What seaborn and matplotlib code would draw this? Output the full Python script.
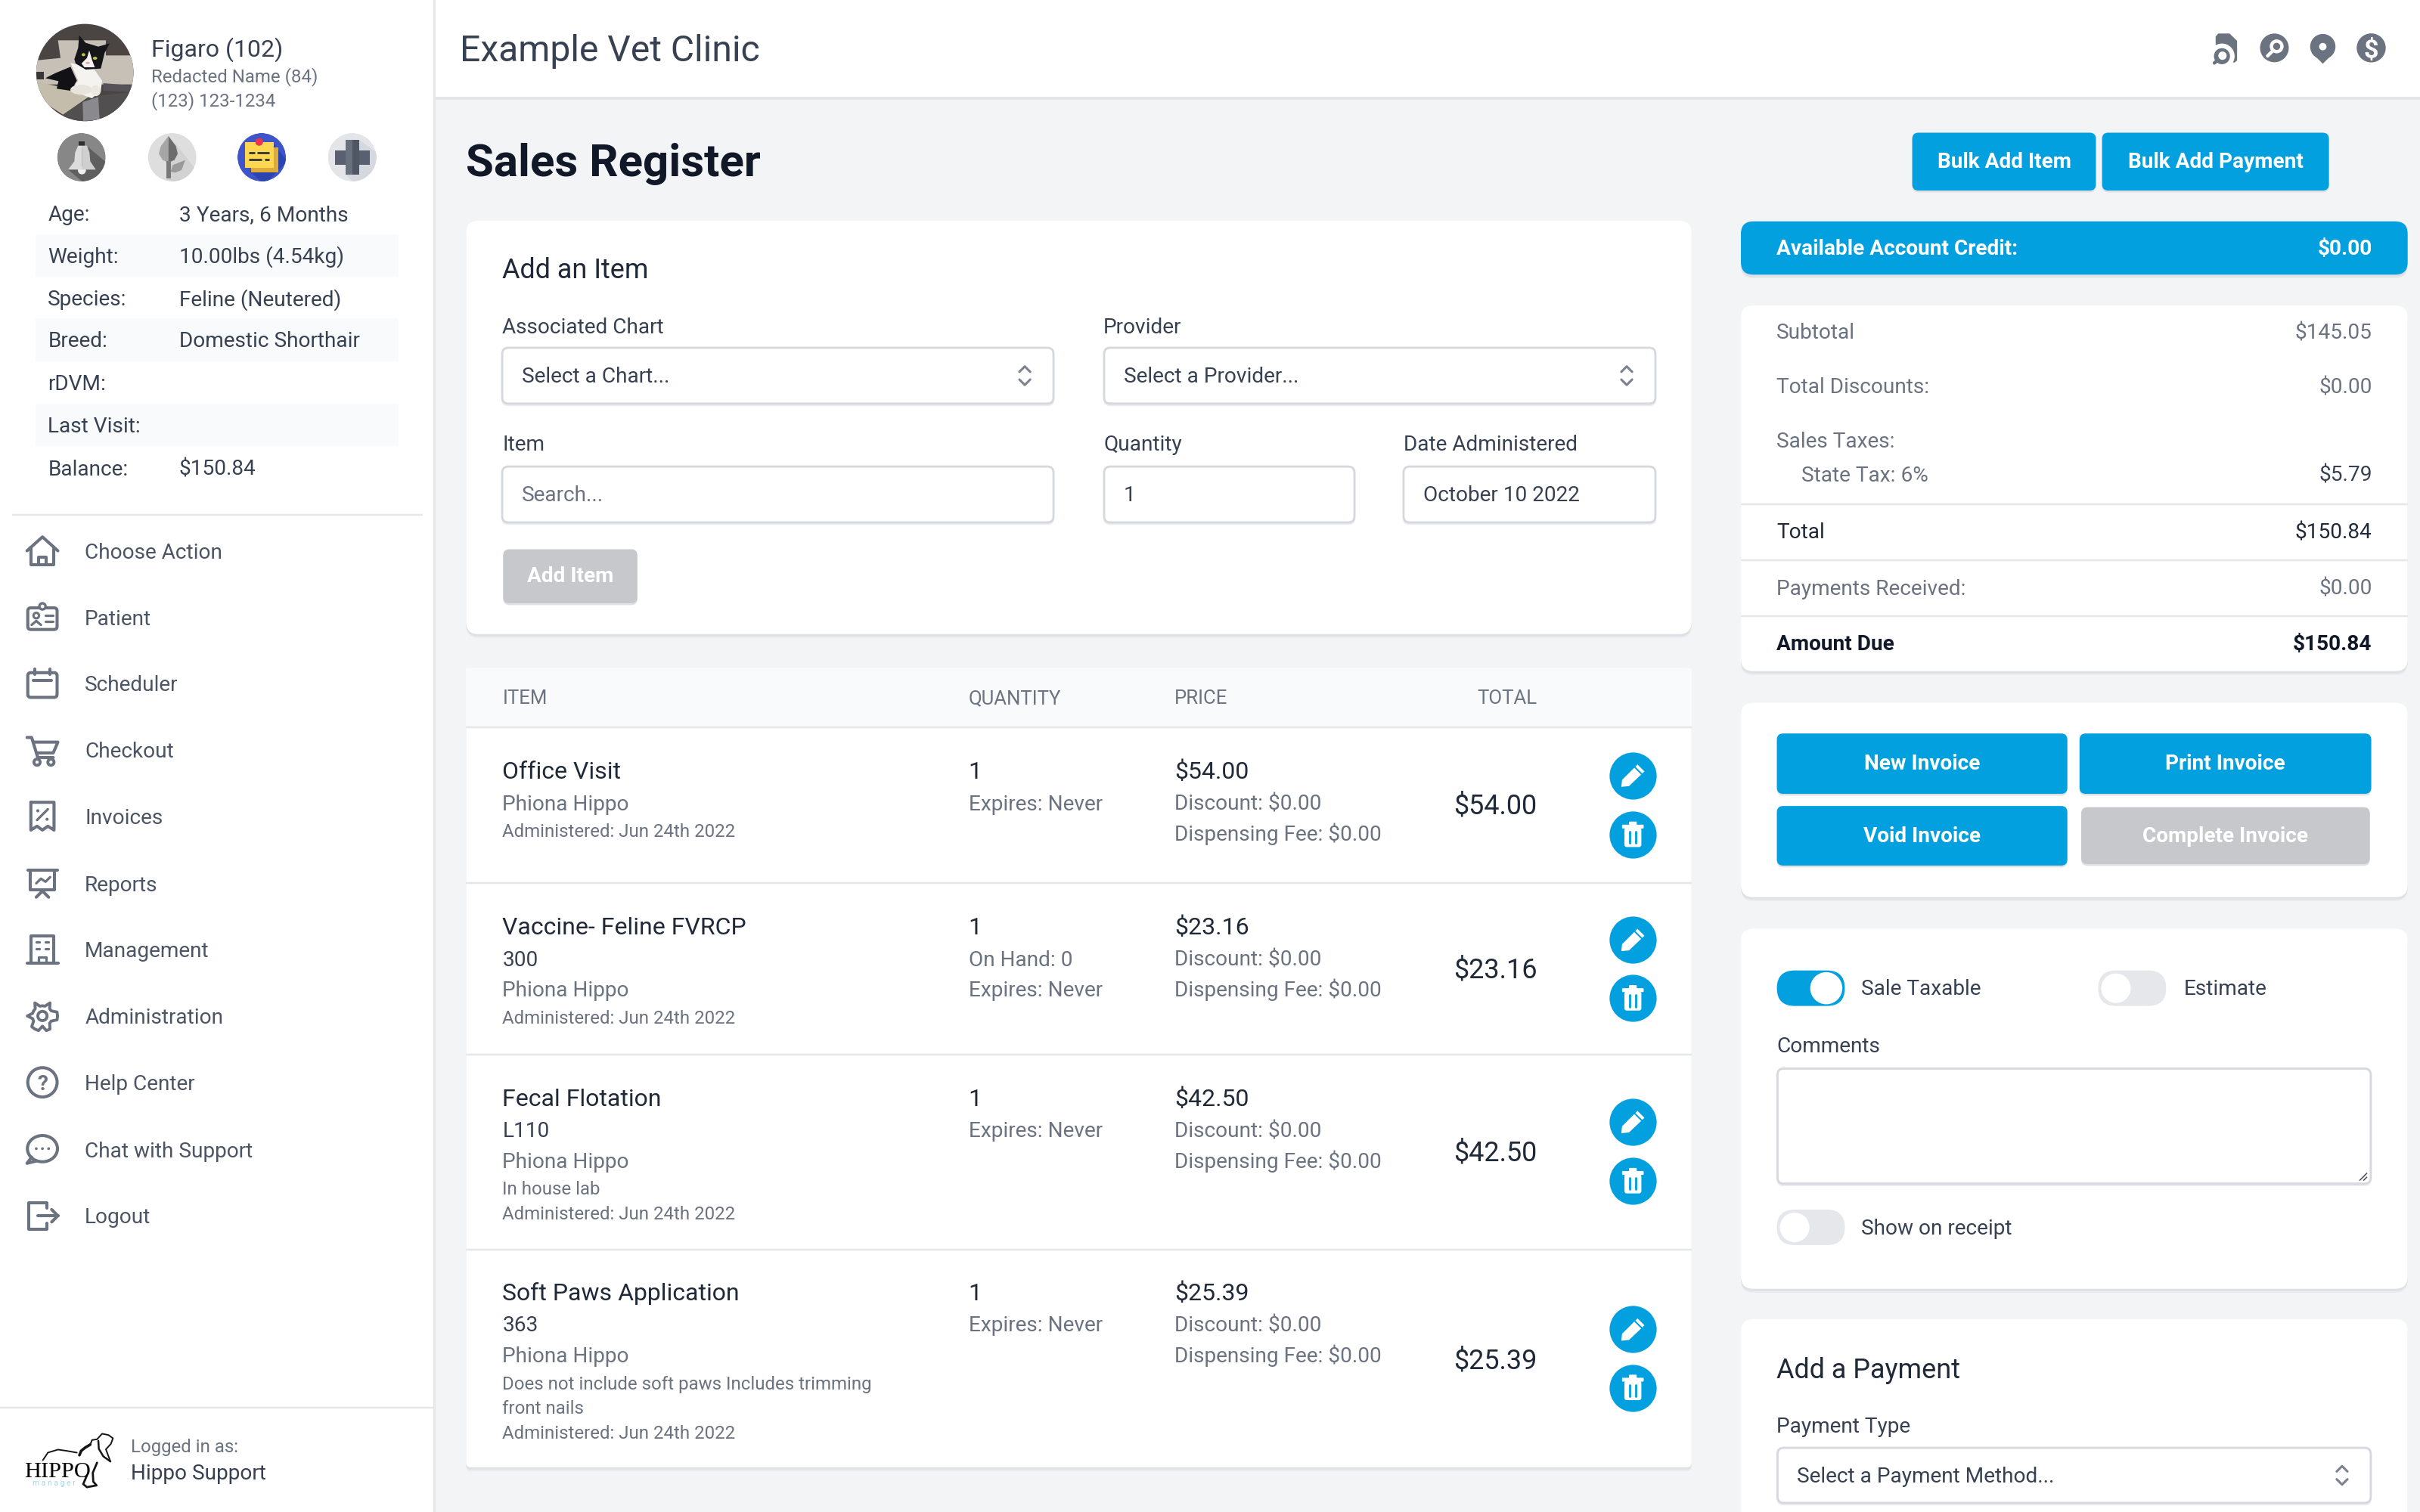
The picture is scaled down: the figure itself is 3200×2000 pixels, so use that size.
"""Sales register screen of the vet clinic app, redrawn in matplotlib/seaborn."""
import matplotlib
matplotlib.use("Agg")
import matplotlib.pyplot as plt
import numpy as np
import pandas as pd
import seaborn as sns
from matplotlib.patches import Circle, Ellipse, FancyBboxPatch, Polygon, Rectangle

# ---------------- TEXT AND VALUES ----------------
clinic_name = "Example Vet Clinic"
page_title = "Sales Register"
patient_name = "Figaro (102)"
owner_name = "Redacted Name (84)"
owner_phone = "(123) 123-1234"

pet_labels = ["Age:", "Weight:", "Species:", "Breed:", "rDVM:", "Last Visit:", "Balance:"]
pet_values = ["3 Years, 6 Months", "10.00lbs (4.54kg)", "Feline (Neutered)", "Domestic Shorthair", "", "", "$150.84"]
menu_items = ["Choose Action", "Patient", "Scheduler", "Checkout", "Invoices", "Reports",
              "Management", "Administration", "Help Center", "Chat with Support", "Logout"]

table_headers = ["ITEM", "QUANTITY", "PRICE"]
item_lines = [
    ["Office Visit", "Phiona Hippo", "Administered: Jun 24th 2022"],
    ["Vaccine- Feline FVRCP", "300", "Phiona Hippo", "Administered: Jun 24th 2022"],
    ["Fecal Flotation", "L110", "Phiona Hippo", "In house lab", "Administered: Jun 24th 2022"],
    ["Soft Paws Application", "363", "Phiona Hippo", "Does not include soft paws Includes trimming",
     "front nails", "Administered: Jun 24th 2022"],
]
qty_lines = [["1", "Expires: Never"], ["1", "On Hand: 0", "Expires: Never"],
             ["1", "Expires: Never"], ["1", "Expires: Never"]]
item_prices = ["$54.00", "$23.16", "$42.50", "$25.39"]

summary_labels = ["Subtotal", "Total Discounts:", "Payments Received:"]
summary_values = ["$145.05", "$0.00", "$0.00"]
tax_rate_label = "State Tax: 6%"
tax_value = "$5.79"
total_value = "$150.84"
amount_due = "$150.84"
account_credit = "$0.00"

# ---------------- LAYOUT (pixels of a 1568 x 980 screen) ----------------
pet_y = [138, 165.5, 193, 220, 248, 275, 303]
menu_y = [357, 400, 443, 486, 529, 572.5, 615.5, 658.5, 701.5, 745, 788]
header_x = [325.5, 627.5, 761]
item_y = [[499, 520, 538], [600, 621, 641, 659], [711, 732, 752, 770, 786],
          [837, 858, 878, 896.5, 912, 928]]
row_dividers = [572.5, 683.5, 810]
total_y = [521, 627.5, 746, 880.5]
edit_y = [502.5, 609, 727, 861.5]
trash_y = [541, 647, 765.5, 899.5]
summary_y = [214.5, 250, 380.5]
summary_dividers = [327, 363, 399.5]

BLUE = "#02a0de"
DISABLED = "#c6c8cb"
BG = "#f3f4f6"
DARK = "#111827"
TEXT = "#374151"
MUTED = "#6b7280"
BORDER = "#d5d8dd"
ICON = "#6b7280"

PX_TO_PT = 3200 / 1568 * 72 / 200
FONT_FIT = 0.98  # the installed Roboto runs a little wider than the browser's

sns.set_theme(style="white", rc={"axes.facecolor": BG, "figure.facecolor": BG})
plt.rcParams["font.family"] = ["Roboto", "DejaVu Sans"]

fig = plt.figure(figsize=(16, 10), dpi=200)
ax = fig.add_axes([0, 0, 1, 1])
ax.set_xlim(0, 1568)
ax.set_ylim(980, 0)
ax.axis("off")


def txt(x, y, s, size=14, color=TEXT, weight="normal", ha="left", **kw):
    # y is the visual middle of the capitals, so rows with descenders stay aligned
    return ax.text(x, y + size * 0.36, s, fontsize=size * PX_TO_PT * FONT_FIT, color=color,
                   fontweight=weight, ha=ha, va="baseline", zorder=6, **kw)


def box(x0, y0, x1, y1, color="white", r=4, edge="none", lw=0, z=2):
    p = FancyBboxPatch((x0, y0), x1 - x0, y1 - y0, boxstyle=f"round,pad=0,rounding_size={r}",
                       fc=color, ec=edge, lw=lw * PX_TO_PT, zorder=z)
    ax.add_patch(p)
    return p


def card(x0, y0, x1, y1, r=8):
    for off, col in [(2.5, "#e9ebee"), (1.5, "#dfe1e5")]:
        box(x0, y0 + off, x1, y1 + off, col, r, z=1)
    box(x0, y0, x1, y1, "white", r, z=2)


def hline(y, x0, x1, color="#e5e7eb", lw=1.2, z=3):
    ax.plot([x0, x1], [y, y], color=color, lw=lw * PX_TO_PT, zorder=z, solid_capstyle="butt")


def stroke(cx, cy, pts, color=ICON, lw=2, z=5):
    pts = np.array(pts, dtype=float)
    ax.plot(cx + pts[:, 0], cy + pts[:, 1], color=color, lw=lw * PX_TO_PT, zorder=z,
            solid_capstyle="round", solid_joinstyle="round")


def button(x0, y0, x1, y1, label, color=BLUE):
    box(x0, y0 + 1.2, x1, y1 + 1.2, "#dfe1e5", 4, z=3)
    box(x0, y0, x1, y1, color, 4, z=4)
    txt((x0 + x1) / 2, (y0 + y1) / 2 - 1, label, 14, "white", "bold", ha="center")


def chevrons(cx, cy, color="#7b8290"):
    stroke(cx, cy, [(-3.5, -2.5), (0, -6), (3.5, -2.5)], color, 1.5)
    stroke(cx, cy, [(-3.5, 2.5), (0, 6), (3.5, 2.5)], color, 1.5)


def field(x0, y0, x1, y1, text="", color=TEXT, chevron=False):
    box(x0, y0 + 1.2, x1, y1 + 1.2, "#eceef1", 4, z=3)
    box(x0 + 0.4, y0 + 0.4, x1 - 0.4, y1 - 0.4, "white", 4, BORDER, 1.4, z=4)
    if text:
        txt(x0 + 13, (y0 + y1) / 2 - 0.5, text, 14, color)
    if chevron:
        chevrons(x1 - 19, (y0 + y1) / 2)


def toggle(x0, y0, on):
    w, h = 44, 23
    box(x0, y0, x0 + w, y0 + h, BLUE if on else "#e5e7eb", 11.5, z=4)
    kx = x0 + 32 if on else x0 + 11.5
    ax.add_patch(Circle((kx, y0 + h / 2), 10, fc="white", ec="#e5e7eb" if not on else "white", lw=0.6, zorder=5))


def clipped(shapes, clip):
    for shape in shapes:
        shape.set_edgecolor("none")
        shape.set_zorder(4)
        ax.add_patch(shape)
        shape.set_clip_path(clip)


# ---------------- ICONS ----------------
def icon_home(c, y):
    stroke(c, y, [(-10, 0), (0, -9), (10, 0)])
    stroke(c, y, [(-7.5, -2), (-7.5, 9), (7.5, 9), (7.5, -2)])
    stroke(c, y, [(-2.5, 9), (-2.5, 4), (2.5, 4), (2.5, 9)])


def icon_patient(c, y):
    ax.add_patch(FancyBboxPatch((c - 9.5, y - 6), 19, 14, boxstyle="round,pad=0,rounding_size=2",
                                fc="none", ec=ICON, lw=2 * PX_TO_PT, zorder=5))
    ax.add_patch(Circle((c, y - 7), 2, fc="white", ec=ICON, lw=1.2, zorder=6))
    ax.add_patch(Circle((c - 4, y - 1), 1.8, fc="none", ec=ICON, lw=1.1, zorder=6))
    stroke(c, y, [(-7, 5), (-4, 2.5), (-1, 5)], lw=1.6)
    stroke(c, y, [(2, -1), (7, -1)], lw=1.6)
    stroke(c, y, [(2, 3), (7, 3)], lw=1.6)


def icon_calendar(c, y):
    ax.add_patch(FancyBboxPatch((c - 9.5, y - 7), 19, 16, boxstyle="round,pad=0,rounding_size=2",
                                fc="none", ec=ICON, lw=2 * PX_TO_PT, zorder=5))
    stroke(c, y, [(-6, -2), (6, -2)])
    stroke(c, y, [(-5, -9.5), (-5, -6)])
    stroke(c, y, [(5, -9.5), (5, -6)])


def icon_cart(c, y):
    stroke(c, y, [(-10, -8), (-7, -8), (-3, 5), (7, 5)])
    stroke(c, y, [(-6, -5), (10, -5), (7, 2), (-4, 2)])
    for dx in (-3.5, 5.5):
        ax.add_patch(Circle((c + dx, y + 8), 2, fc="none", ec=ICON, lw=1.4, zorder=5))


def icon_invoice(c, y):
    stroke(c, y, [(-7.5, -9), (7.5, -9), (7.5, 9), (3.5, 6.5), (0, 9), (-3.5, 6.5), (-7.5, 9), (-7.5, -9)])
    stroke(c, y, [(-3.5, 2.5), (3.5, -4.5)], lw=1.6)
    ax.add_patch(Circle((c - 3, y - 3.5), 1, fc=ICON, ec="none", zorder=5))
    ax.add_patch(Circle((c + 3, y + 2), 1, fc=ICON, ec="none", zorder=5))


def icon_reports(c, y):
    stroke(c, y, [(-9.5, -8.5), (9.5, -8.5)])
    stroke(c, y, [(-8, -8.5), (-8, 4), (8, 4), (8, -8.5)])
    stroke(c, y, [(-4, 0), (-1, -3), (2, -1), (5, -4)], lw=1.6)
    stroke(c, y, [(-4, 9), (0, 5), (4, 9)])


def icon_building(c, y):
    stroke(c, y, [(-7.5, 9), (-7.5, -9), (7.5, -9), (7.5, 9)])
    stroke(c, y, [(-10, 9), (10, 9)])
    stroke(c, y, [(-2.5, 9), (-2.5, 5), (2.5, 5), (2.5, 9)], lw=1.6)
    for dy in (-5, -0.5):
        stroke(c, y, [(-4, dy), (-2, dy)], lw=1.6)
        stroke(c, y, [(2, dy), (4, dy)], lw=1.6)


def icon_gear(c, y):
    ang = np.deg2rad(np.arange(0, 361, 15))
    rad = 8.2 + 1.6 * np.sign(np.cos(6 * ang))
    stroke(c, y, list(zip(rad * np.cos(ang), rad * np.sin(ang))), lw=1.9)
    ax.add_patch(Circle((c, y), 3, fc="none", ec=ICON, lw=1.4, zorder=5))


def icon_help(c, y):
    ax.add_patch(Circle((c, y), 9.5, fc="none", ec=ICON, lw=2 * PX_TO_PT, zorder=5))
    txt(c, y, "?", 14, ICON, "bold", ha="center")


def icon_chat(c, y):
    ax.add_patch(Ellipse((c, y - 0.5), 19.5, 17, fc="none", ec=ICON, lw=2 * PX_TO_PT, zorder=5))
    stroke(c, y, [(-7, 5), (-10, 9), (-4, 7.5)])
    for dx in (-4, 0, 4):
        ax.add_patch(Circle((c + dx, y - 0.5), 0.9, fc=ICON, ec="none", zorder=6))


def icon_logout(c, y):
    stroke(c, y, [(3, -5), (3, -8.5), (-9, -8.5), (-9, 8.5), (3, 8.5), (3, 5)])
    stroke(c, y, [(-3, 0), (10, 0)])
    stroke(c, y, [(6, -4), (10, 0), (6, 4)])


menu_icons = [icon_home, icon_patient, icon_calendar, icon_cart, icon_invoice, icon_reports,
              icon_building, icon_gear, icon_help, icon_chat, icon_logout]


def icon_pencil(c, y):
    ax.add_patch(Polygon([(c - 7.5, y + 7.5), (c - 7, y + 3), (c + 3, y - 7), (c + 7.5, y - 2.5),
                          (c - 2.5, y + 7)], fc="white", ec="none", zorder=6))
    stroke(c, y, [(1, -5.5), (6, -0.5)], BLUE, 1, z=7)


def icon_trash(c, y):
    box(c - 5.5, y - 4.5, c + 5.5, y + 8, "white", 1.5, z=6)
    box(c - 7, y - 6.5, c + 7, y - 4, "white", 0.5, z=6)
    box(c - 2.5, y - 8.5, c + 2.5, y - 5, "white", 0.5, z=6)
    for dx in (-2, 2):
        stroke(c, y, [(dx, -2), (dx, 5.5)], BLUE, 1.4, z=7)


# ---------------- PAGE SHELL ----------------
ax.add_patch(Rectangle((282, 62.5), 1286, 2, fc="#e3e5e8", ec="none", zorder=1))
ax.add_patch(Rectangle((282, 0), 1286, 62.5, fc="white", ec="none", zorder=2))
ax.add_patch(Rectangle((0, 0), 281, 980, fc="white", ec="none", zorder=2))
ax.add_patch(Rectangle((281, 0), 1.2, 980, fc="#e5e7eb", ec="none", zorder=2))

txt(298, 31, clinic_name, 24, TEXT)
txt(302, 103.5, page_title, 30, DARK, "bold")


def top(zx, zy):
    return (1420.9 + zx / 6.122, 14.7 + zy / 6.122)


ax.add_patch(Polygon([top(90, 55), top(100, 43), top(145, 43), top(175, 72), top(175, 150), top(165, 158),
                      top(90, 158)], fc=ICON, ec="none", zorder=4))
ax.add_patch(Circle(top(115, 133), 8.2, fc="white", ec="none", zorder=4))
ax.add_patch(Rectangle(top(60, 158), 6, 3, fc="white", ec="none", zorder=4))
ax.add_patch(Circle(top(115, 133), 5.2, fc=ICON, ec="none", zorder=5))
ax.add_patch(Circle(top(117, 131), 2.7, fc="white", ec="none", zorder=6))
stroke(0, 0, [top(98, 148), top(85, 160)], lw=2.2)
ax.add_patch(Circle(top(323, 100), 9.3, fc=ICON, ec="none", zorder=4))
ax.add_patch(Circle(top(332, 94), 4.5, fc="white", ec="none", zorder=5))
ax.add_patch(Circle(top(332, 94), 2.3, fc=ICON, ec="none", zorder=6))
stroke(0, 0, [top(316, 112), top(296, 132)], "white", 2.2)
ax.add_patch(Polygon([top(472, 120), top(515, 163), top(558, 120)], fc=ICON, ec="none", zorder=4))
ax.add_patch(Circle(top(515, 95), 8.2, fc=ICON, ec="none", zorder=4))
ax.add_patch(Circle(top(515, 95), 2.4, fc="white", ec="none", zorder=5))
ax.add_patch(Circle(top(707, 100), 9.4, fc=ICON, ec="none", zorder=4))
txt(*top(707, 100), "$", 17, "white", "bold", ha="center")

# ---------------- SIDEBAR ----------------


def cat(zx, zy):
    return (14.7 + zx / 6.122, 9.8 + zy / 6.122)


def cat_poly(points, color):
    return Polygon([cat(*p) for p in points], fc=color)


avatar = [
    Rectangle((20, 12), 70, 70, fc="#4a4542"),
    cat_poly([(140, 100), (330, 100), (330, 160), (440, 160), (440, 275), (50, 275), (50, 180), (150, 170)], "#c6c0b6"),
    cat_poly([(320, 270), (440, 280), (440, 305), (320, 300)], "#55525a"),
    cat_poly([(50, 262), (275, 315), (160, 395), (90, 350), (50, 290)], "#c4bdab"),
    cat_poly([(160, 395), (275, 322), (440, 305), (440, 425), (170, 425)], "#514f4f"),
    cat_poly([(238, 345), (300, 325), (305, 415), (240, 420)], "#8a8a8e"),
    cat_poly([(55, 225), (85, 225), (85, 255), (55, 255)], "#3a3836"),
    cat_poly([(90, 250), (130, 230), (190, 205), (215, 260), (190, 300), (135, 292), (142, 262)], "#111116"),
    cat_poly([(190, 190), (280, 210), (315, 260), (310, 300), (275, 330), (190, 300), (220, 260)], "#f5f3f0"),
    Ellipse(cat(232, 296), 14, 6.5, fc="#e8e3dc"),
    Ellipse(cat(290, 300), 6.5, 7, fc="#ece7e1"),
    cat_poly([(205, 175), (220, 130), (224, 80), (250, 110), (300, 125), (345, 112), (325, 150), (310, 212),
              (250, 216), (210, 192)], "#15151a"),
    cat_poly([(264, 140), (276, 180), (286, 207), (245, 207), (233, 192), (255, 170)], "#f5f2ef"),
    Ellipse(cat(241, 157), 2.4, 2, fc="#b9c24a"),
    Ellipse(cat(287, 171), 2.8, 2, fc="#b9c24a"),
    Ellipse(cat(258, 190), 2.6, 1.6, fc="#eaa9b6"),
]
clipped(avatar, Circle((55, 47), 31.5, transform=ax.transData))


def ic(zx, zy):
    return (29.4 + zx / 6.122, 83.3 + zy / 6.122)


def ic_poly(points, color):
    return Polygon([ic(*p) for p in points], fc=color)


def status_icon(zc, bg, shapes):
    clip = Circle(ic(zc, 114), 15.7, transform=ax.transData)
    clipped([Circle(ic(zc, 114), 15.7, fc=bg)] + shapes, clip)


status_icon(143, "#878787", [
    ic_poly([(165, 70), (260, 150), (170, 230), (90, 163)], "#5f5f5f"),
    ic_poly([(133, 52), (157, 52), (157, 70), (133, 70)], "#2f2f2f"),
    Circle(ic(145, 166), 2.6, fc="#efefef"),
    ic_poly([(130, 68), (145, 68), (145, 163), (90, 163), (115, 130), (118, 95)], "#dcdcdc"),
    ic_poly([(145, 68), (165, 68), (175, 95), (178, 130), (200, 163), (145, 163)], "#cfcfcf"),
])
status_icon(503, "#dedede", [
    ic_poly([(490, 30), (560, 115), (600, 170), (540, 230), (480, 200)], "#d2d2d2"),
    ic_poly([(488, 30), (488, 135), (465, 125), (450, 100), (458, 70)], "#a6a6a6"),
    ic_poly([(488, 30), (488, 135), (512, 125), (525, 100), (518, 70)], "#6c6c6c"),
    ic_poly([(480, 130), (497, 130), (497, 198), (480, 198)], "#7a7a7a"),
    ic_poly([(497, 172), (505, 145), (555, 125), (540, 165), (515, 175)], "#9a9a9a"),
])
status_icon(858, "#3d55c9", [
    ic_poly([(905, 60), (960, 130), (870, 220), (810, 170)], "#2c44ad"),
    ic_poly([(815, 75), (925, 75), (925, 175), (815, 175)], "#dfab38"),
    ic_poly([(792, 55), (905, 55), (905, 155), (792, 155)], "#fdd652"),
    Circle(ic(848, 53), 2.5, fc="#e8344f"),
])
for (a, b), zy in zip([(808, 830), (840, 888), (808, 858), (870, 888)], [96, 96, 122, 122]):
    ax.plot([ic(a, zy)[0], ic(b, zy)[0]], [ic(a, zy)[1]] * 2, color="#3a3a3a", lw=1.05, zorder=6, solid_capstyle="butt")
status_icon(1217, "#e4e5e8", [
    ic_poly([(1245, 45), (1320, 100), (1320, 170), (1230, 220), (1190, 182)], "#d5d8de"),
    ic_poly([(1148, 88), (1288, 88), (1288, 143), (1148, 143)], "#596170"),
    ic_poly([(1190, 45), (1218, 45), (1218, 182), (1190, 182)], "#6a717e"),
    ic_poly([(1218, 45), (1245, 45), (1245, 182), (1218, 182)], "#4f5765"),
])

txt(98, 31, patient_name, 16, TEXT)
txt(98, 49, owner_name, 12, MUTED)
txt(98, 64.5, owner_phone, 12, MUTED)

for i, (lab, val, y) in enumerate(zip(pet_labels, pet_values, pet_y)):
    if i % 2 == 1:
        ax.add_patch(Rectangle((23, y - 13.5), 235, 27.5, fc="#f9fafb", ec="none", zorder=3))
    txt(31, y, lab, 14, TEXT)
    txt(116, y, val, 14, TEXT)

hline(333.5, 8, 274)
for label, y, draw_icon in zip(menu_items, menu_y, menu_icons):
    draw_icon(27.5, y)
    txt(55, y, label, 14, "#4b5563")

hline(912.5, 0, 281)


def logo(points):
    return [(zx / 6.122, 921.1 + zy / 6.122) for zx, zy in points]


for pts, width in [
    ([(170, 155), (190, 125), (230, 113), (265, 118), (305, 125)], 0.7),
    ([(315, 135), (322, 118), (338, 105), (358, 93)], 1.3),
    ([(358, 93), (365, 75), (385, 72), (405, 50), (430, 55), (448, 68), (440, 90), (420, 112), (438, 160)], 0.7),
    ([(390, 78), (392, 110), (410, 140), (438, 160)], 0.9),
    ([(385, 165), (368, 205), (370, 240), (383, 255), (345, 262), (330, 250), (345, 215)], 1.0),
]:
    arr = np.array(logo(pts))
    ax.plot(arr[:, 0], arr[:, 1], color="#161616", lw=width, zorder=5, solid_joinstyle="round")
txt(16, 952, "HIPPO", 15.2, "black", family="Liberation Serif")
txt(21, 961, "m a n a g e r", 5.2, "#a5d6ee")
txt(85, 937, "Logged in as:", 12, MUTED)
txt(85, 954, "Hippo Support", 14, TEXT)

# ---------------- HEADER BUTTONS ----------------
button(1239, 86, 1358, 123.5, "Bulk Add Item")
button(1362, 86, 1509, 123.5, "Bulk Add Payment")

# ---------------- ADD AN ITEM ----------------
card(302, 143, 1096, 411)
txt(325.5, 174, "Add an Item", 18, "#1f2937")
txt(325.5, 211, "Associated Chart", 14)
txt(715, 211, "Provider", 14)
field(325, 225, 683, 262, "Select a Chart...", chevron=True)
field(715, 225, 1073, 262, "Select a Provider...", chevron=True)
txt(325.5, 287, "Item", 14)
txt(715, 287, "Quantity", 14)
txt(909.5, 287, "Date Administered", 14)
field(325, 302, 683, 339, "Search...", MUTED)
field(715, 302, 878, 339, "1")
field(909, 302, 1073, 339, "October 10 2022")
button(326, 356, 413, 391, "Add Item", DISABLED)

# ---------------- ITEM TABLE ----------------
card(302, 433, 1096, 951, r=3)
ax.add_patch(Rectangle((302, 433), 794, 38, fc="#f9fafb", ec="none", zorder=3))
hline(471.5, 302, 1096)
for label, x in zip(table_headers, header_x):
    txt(x, 451.5, label, 12.9, MUTED)
txt(996, 451.5, "TOTAL", 12.9, MUTED, ha="right")
for y in row_dividers:
    hline(y, 302, 1096)

for lines, ys, qty, price, ty in zip(item_lines, item_y, qty_lines, item_prices, total_y):
    for j, (line, y) in enumerate(zip(lines, ys)):
        if j == 0:
            txt(325.5, y, line, 16, "#1f2937")
        elif line == "Phiona Hippo":
            txt(325.5, y, line, 14, MUTED)
        elif j == 1:
            txt(325.5, y, line, 14, TEXT)
        else:
            txt(325.5, y, line, 12, MUTED)
    for j, line in enumerate(qty):
        txt(627.5, ys[j], line, 16 if j == 0 else 14, "#1f2937" if j == 0 else MUTED)
    txt(761, ys[0], price, 16, "#1f2937")
    txt(761, ys[1], "Discount: $0.00", 14, MUTED)
    txt(761, ys[2] if len(ys) > 3 else ys[1] + 20, "Dispensing Fee: $0.00", 14, MUTED)
    txt(996, ty, price, 18, "#1f2937", ha="right")

# round action buttons go through seaborn, size in points^2
actions = pd.DataFrame({"x": [1058] * 8, "y": edit_y + trash_y})
diameter_pt = 30.5 * PX_TO_PT
sns.scatterplot(data=actions, x="x", y="y", ax=ax, s=diameter_pt ** 2, color=BLUE, linewidth=0, zorder=5, legend=False)
ax.set_xlim(0, 1568)
ax.set_ylim(980, 0)
ax.axis("off")
for y in edit_y:
    icon_pencil(1058, y)
for y in trash_y:
    icon_trash(1058, y)

# ---------------- RIGHT COLUMN ----------------
box(1128, 145, 1560, 180, "#dfe1e5", 8, z=1)
box(1128, 143.5, 1560, 178, BLUE, 8, z=2)
txt(1151, 160, "Available Account Credit:", 14, "white", "bold")
txt(1537, 160, account_credit, 14, "white", "bold", ha="right")

card(1128, 198, 1560, 435)
for label, value, y in zip(summary_labels, summary_values, summary_y):
    txt(1151, y, label, 14, MUTED)
    txt(1537, y, value, 14, MUTED, ha="right")
txt(1151, 285, "Sales Taxes:", 14, MUTED)
txt(1167, 307, tax_rate_label, 14, MUTED)
txt(1537, 307, tax_value, 14, TEXT, ha="right")
txt(1151, 344, "Total", 14, "#1f2937")
txt(1537, 344, total_value, 14, "#1f2937", ha="right")
txt(1151, 416.5, "Amount Due", 14, DARK, "bold")
txt(1537, 416.5, amount_due, 14, DARK, "bold", ha="right")
for y in summary_dividers:
    hline(y, 1128, 1560)

card(1128, 455.5, 1560, 581.5)
button(1151.3, 475.4, 1339.5, 514.5, "New Invoice")
button(1347.4, 475.4, 1536.4, 514.5, "Print Invoice")
button(1151.3, 522.4, 1339.5, 561, "Void Invoice")
button(1348.5, 523.2, 1535.5, 560, "Complete Invoice", DISABLED)

card(1128, 602, 1560, 835.3)
toggle(1151.3, 629, True)
txt(1206, 640, "Sale Taxable", 14)
toggle(1359.5, 629, False)
txt(1415, 640, "Estimate", 14)
txt(1151, 677, "Comments", 14)
field(1151.3, 692.2, 1536.5, 767.6)
stroke(1531.5, 763, [(-2.5, 2), (2, -2.5)], "#555", 0.8)
stroke(1531.5, 763, [(0, 2), (2, 0)], "#555", 0.8)
toggle(1151.3, 784, False)
txt(1206, 795, "Show on receipt", 14)

card(1128, 855, 1560, 1000)
txt(1151, 887, "Add a Payment", 18, "#1f2937")
txt(1151, 923.5, "Payment Type", 14)
field(1151.3, 938, 1536.5, 974.5, "Select a Payment Method...", chevron=True)

fig.savefig("out.png", dpi=200, facecolor=BG)
